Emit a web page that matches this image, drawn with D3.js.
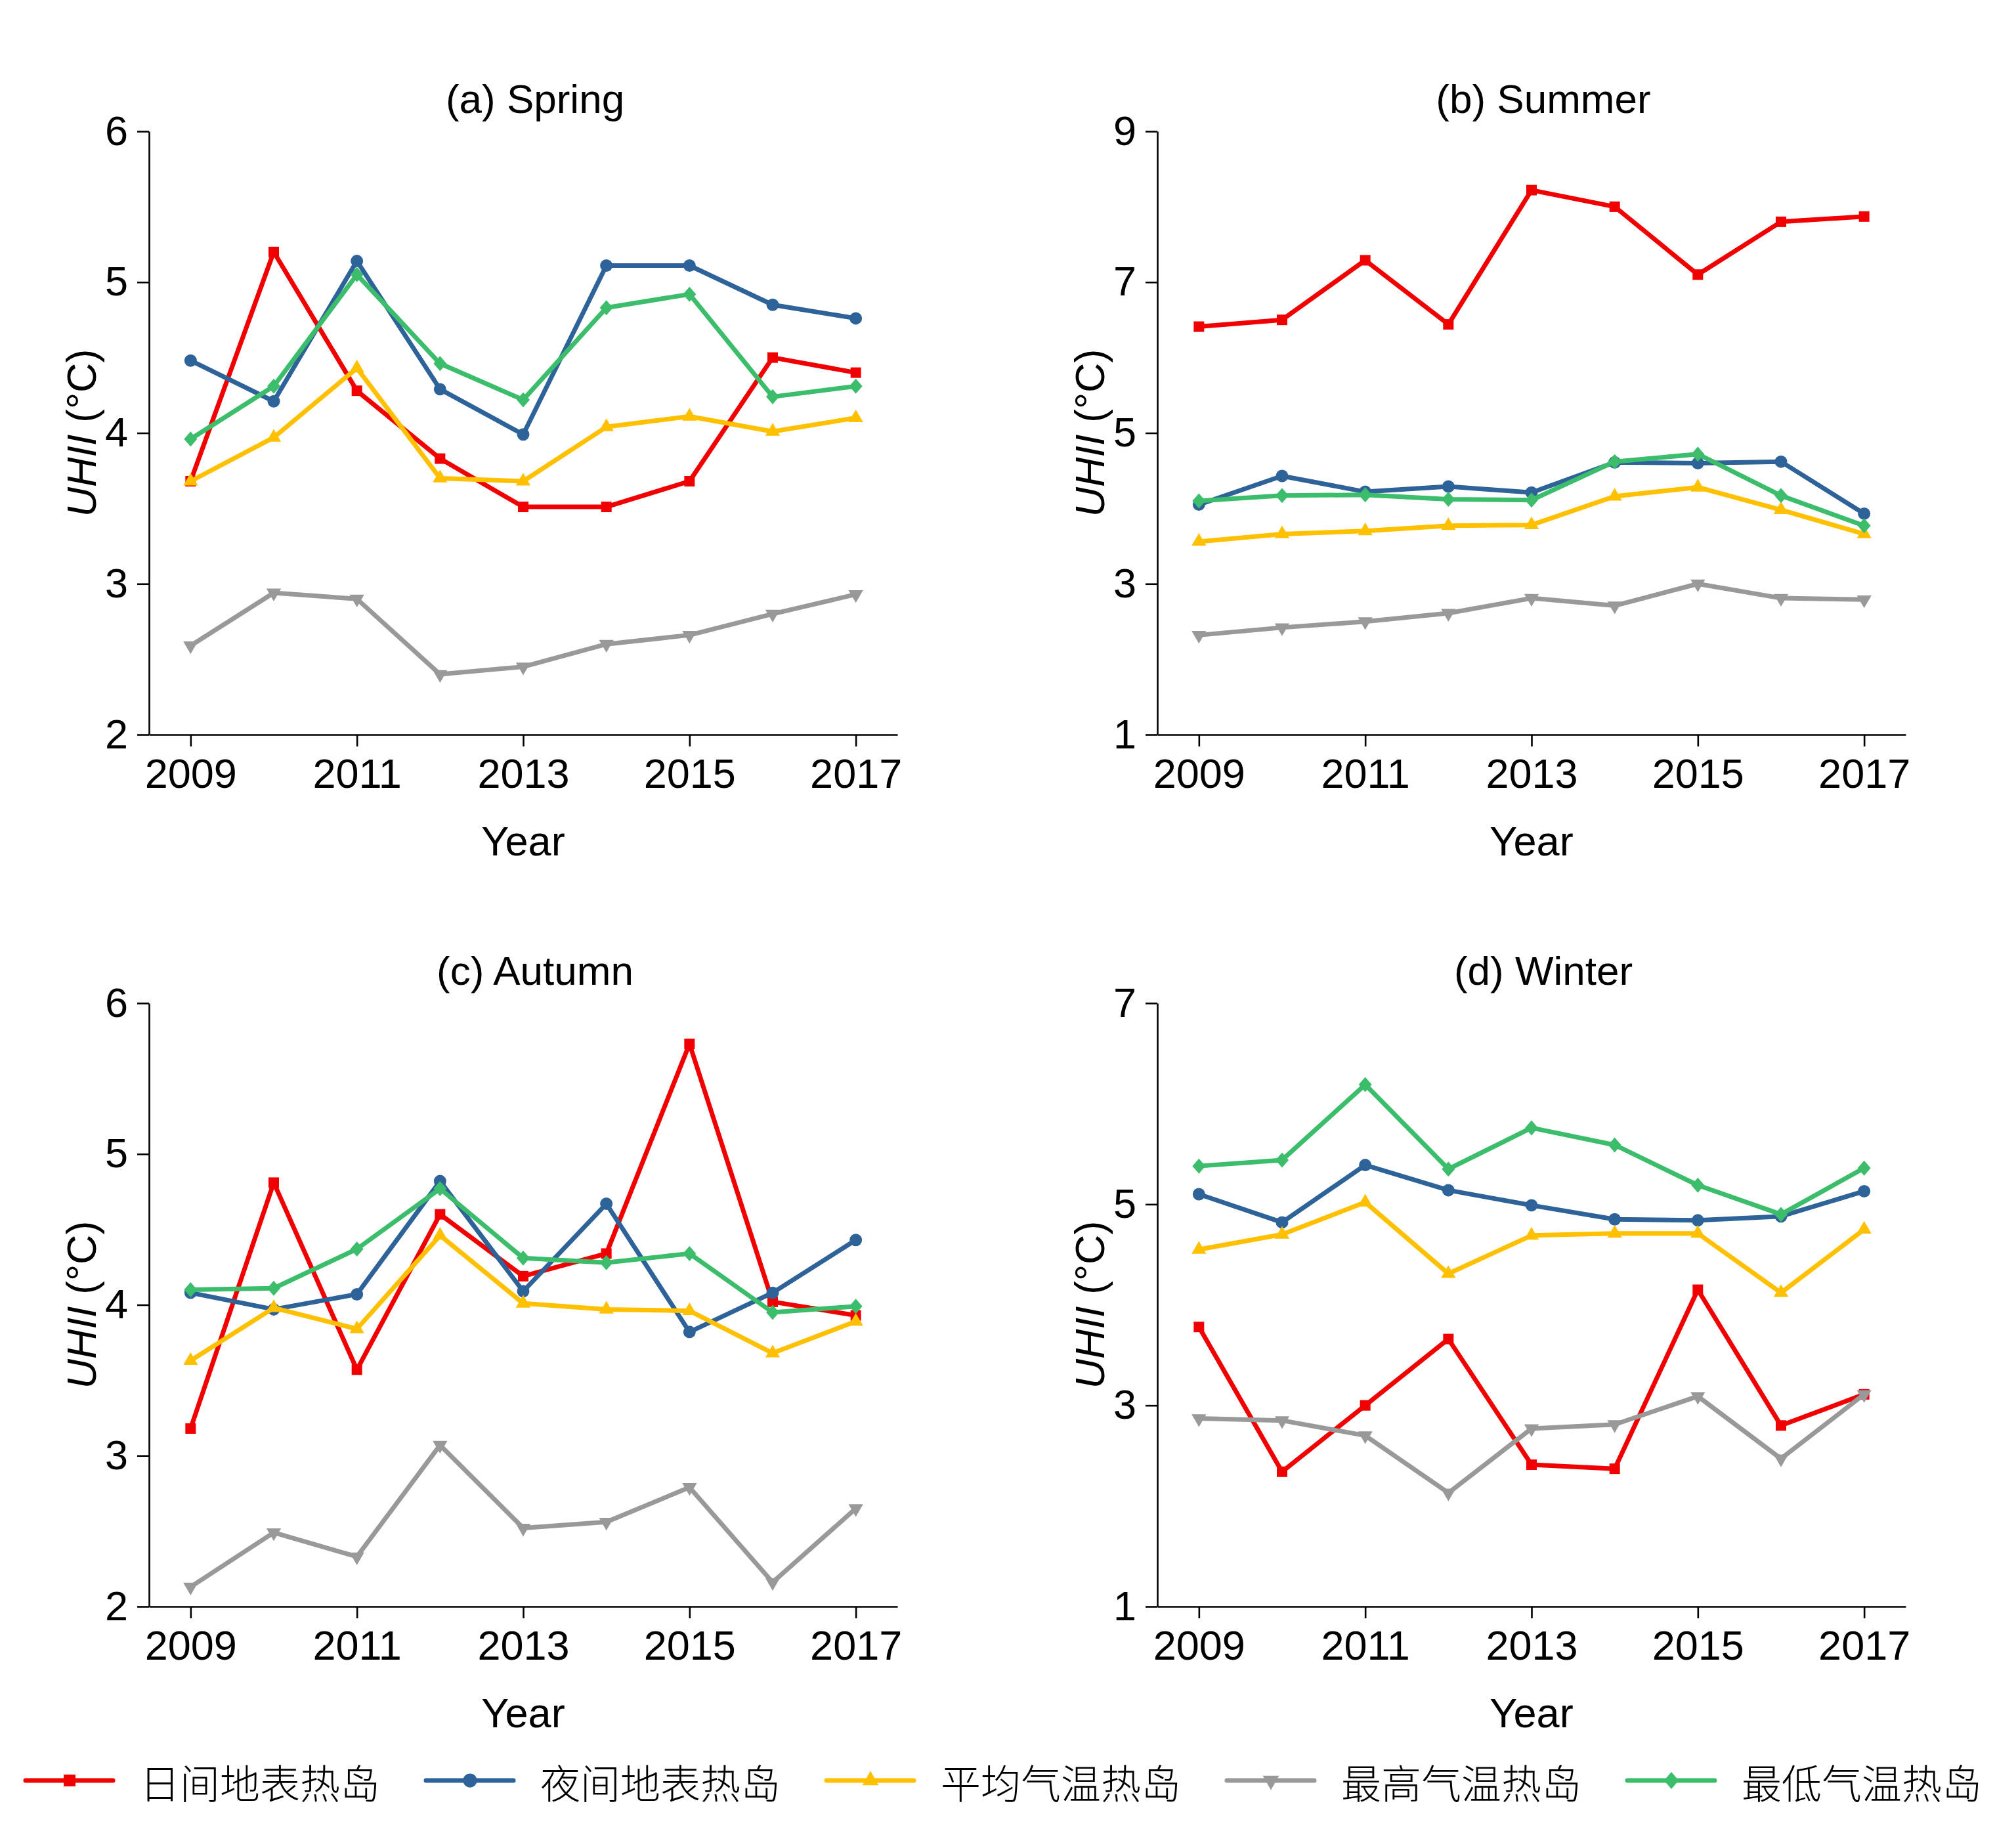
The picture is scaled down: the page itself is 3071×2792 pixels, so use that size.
<!DOCTYPE html>
<html>
<head>
<meta charset="utf-8">
<script src="https://cdn.jsdelivr.net/npm/d3@7"></script>
<style>
  html, body { margin: 0; padding: 0; background: #fff; }
  svg { display: block; }
</style>
</head>
<body>
<script>
// ---------- data ----------
const years = [2009, 2010, 2011, 2012, 2013, 2014, 2015, 2016, 2017];
const xTickYears = [2009, 2011, 2013, 2015, 2017];
const seriesNames = ["日间地表热岛", "夜间地表热岛", "平均气温热岛", "最高气温热岛", "最低气温热岛"];
const seriesColors = ["#F00000", "#2E6399", "#FFC000", "#999999", "#3CBD6B"];

const panelTitles = ["(a) Spring", "(b) Summer", "(c) Autumn", "(d) Winter"];
const springDomain = [2, 6], summerDomain = [1, 9], autumnDomain = [2, 6], winterDomain = [1, 7];
const springTicks = [2, 3, 4, 5, 6];
const summerTicks = [1, 3, 5, 7, 9];
const autumnTicks = [2, 3, 4, 5, 6];
const winterTicks = [1, 3, 5, 7];

// Spring
const springDay   = [3.68, 5.20, 4.28, 3.83, 3.51, 3.51, 3.68, 4.50, 4.40];
const springNight = [4.48, 4.21, 5.14, 4.29, 3.99, 5.11, 5.11, 4.85, 4.76];
const springMean  = [3.68, 3.97, 4.43, 3.70, 3.68, 4.04, 4.11, 4.01, 4.10];
const springMax   = [2.59, 2.94, 2.90, 2.40, 2.45, 2.60, 2.66, 2.80, 2.93];
const springMin   = [3.96, 4.31, 5.05, 4.46, 4.22, 4.83, 4.92, 4.24, 4.31];
// Summer
const summerDay   = [6.41, 6.50, 7.29, 6.44, 8.22, 8.00, 7.10, 7.80, 7.87];
const summerNight = [4.05, 4.43, 4.22, 4.29, 4.21, 4.61, 4.60, 4.62, 3.93];
const summerMean  = [3.56, 3.66, 3.70, 3.77, 3.78, 4.16, 4.28, 3.98, 3.66];
const summerMax   = [2.32, 2.42, 2.50, 2.61, 2.81, 2.71, 3.00, 2.81, 2.79];
const summerMin   = [4.10, 4.17, 4.18, 4.12, 4.11, 4.62, 4.72, 4.17, 3.77];
// Autumn
const autumnDay   = [3.18, 4.81, 3.57, 4.60, 4.19, 4.34, 5.73, 4.02, 3.93];
const autumnNight = [4.08, 3.97, 4.07, 4.82, 4.09, 4.67, 3.82, 4.08, 4.43];
const autumnMean  = [3.63, 3.98, 3.84, 4.46, 4.01, 3.97, 3.96, 3.68, 3.89];
const autumnMax   = [2.13, 2.49, 2.33, 3.07, 2.52, 2.56, 2.79, 2.16, 2.65];
const autumnMin   = [4.10, 4.11, 4.37, 4.77, 4.31, 4.28, 4.34, 3.95, 3.99];
// Winter
const winterDay   = [3.78, 2.34, 3.00, 3.66, 2.41, 2.37, 4.15, 2.80, 3.11];
const winterNight = [5.10, 4.82, 5.39, 5.14, 4.99, 4.85, 4.84, 4.88, 5.13];
const winterMean  = [4.55, 4.70, 5.02, 4.31, 4.69, 4.71, 4.71, 4.12, 4.75];
const winterMax   = [2.87, 2.85, 2.70, 2.13, 2.77, 2.81, 3.09, 2.47, 3.11];
const winterMin   = [5.38, 5.44, 6.19, 5.35, 5.76, 5.59, 5.19, 4.90, 5.36];

// ---------- layout ----------
const W = 3071, H = 2792;
const latinFont = "'Liberation Sans', Arial, Helvetica, sans-serif";
const cjkFont = "'Noto Sans CJK SC', 'Noto Sans CJK JP', sans-serif";
const pw = 1140, ph = 919;
const lefts = [227, 1763], tops = [200, 1528];

const panels = [
  { title: panelTitles[0], series: [springDay, springNight, springMean, springMax, springMin], domain: springDomain, ticks: springTicks, left: lefts[0], top: tops[0] },
  { title: panelTitles[1], series: [summerDay, summerNight, summerMean, summerMax, summerMin], domain: summerDomain, ticks: summerTicks, left: lefts[1], top: tops[0] },
  { title: panelTitles[2], series: [autumnDay, autumnNight, autumnMean, autumnMax, autumnMin], domain: autumnDomain, ticks: autumnTicks, left: lefts[0], top: tops[1] },
  { title: panelTitles[3], series: [winterDay, winterNight, winterMean, winterMax, winterMin], domain: winterDomain, ticks: winterTicks, left: lefts[1], top: tops[1] }
];

const svg = d3.select("body").append("svg")
  .attr("width", W).attr("height", H)
  .attr("viewBox", `0 0 ${W} ${H}`);
svg.append("rect").attr("width", W).attr("height", H).attr("fill", "#fff");

function markerPath(i, scale) {
  const s = scale || 1;
  if (i === 0) return d3.symbol(d3.symbolSquare, 256 * s * s)();
  if (i === 1) return d3.symbol(d3.symbolCircle, Math.PI * 90 * s * s)();
  if (i === 2 || i === 3) return d3.symbol(d3.symbolTriangle, 215 * s * s)();
  const p = d3.path();
  p.moveTo(0, -11.5 * s); p.lineTo(10 * s, 0); p.lineTo(0, 11.5 * s); p.lineTo(-10 * s, 0); p.closePath();
  return p.toString();
}

panels.forEach(pn => {
  const g = svg.append("g").attr("transform", `translate(${pn.left},${pn.top})`);
  const x = d3.scaleLinear().domain([2008.5, 2017.5]).range([0, pw]);
  const y = d3.scaleLinear().domain(pn.domain).range([ph, 0]);

  const xAxis = g.append("g").attr("transform", `translate(0,${ph})`)
    .call(d3.axisBottom(x).tickValues(xTickYears).tickFormat(d3.format("d"))
      .tickSize(18).tickSizeOuter(0).tickPadding(18));
  const yAxis = g.append("g")
    .call(d3.axisLeft(y).tickValues(pn.ticks).tickFormat(d3.format("d"))
      .tickSize(18).tickSizeOuter(0).tickPadding(14));
  [xAxis, yAxis].forEach(a => {
    a.selectAll("path, line").attr("stroke", "#000").attr("stroke-width", 2.6);
    a.selectAll("text").attr("font-family", latinFont).attr("font-size", 63).attr("fill", "#000");
  });

  pn.series.forEach((vals, i) => {
    const pts = years.map((yr, k) => [yr, vals[k]]);
    g.append("path")
      .attr("d", d3.line().x(d => x(d[0])).y(d => y(d[1]))(pts))
      .attr("fill", "none").attr("stroke", seriesColors[i])
      .attr("stroke-width", 7).attr("stroke-linejoin", "round");
    g.selectAll(null).data(pts).enter().append("path")
      .attr("d", markerPath(i))
      .attr("transform", d => `translate(${x(d[0])},${y(d[1])})` + (i === 3 ? " rotate(180)" : ""))
      .attr("fill", seriesColors[i]);
  });

  g.append("text")
    .attr("x", 588).attr("y", -28)
    .attr("text-anchor", "middle")
    .attr("font-family", latinFont).attr("font-size", 62).attr("fill", "#000")
    .text(pn.title);

  g.append("text")
    .attr("x", pw / 2).attr("y", ph + 184)
    .attr("text-anchor", "middle")
    .attr("font-family", latinFont).attr("font-size", 63).attr("fill", "#000")
    .text("Year");

  const yl = g.append("text")
    .attr("transform", `translate(-81,${ph / 2}) rotate(-90)`)
    .attr("text-anchor", "middle")
    .attr("font-family", latinFont).attr("font-size", 63).attr("fill", "#000");
  yl.append("tspan").attr("font-style", "italic").text("UHII");
  yl.append("tspan").text(" (°C)");
});

// ---------- legend ----------
const legY = 2712;
const leg = svg.append("g");
seriesNames.forEach((name, i) => {
  const x0 = 39 + i * 610;
  const item = leg.append("g").attr("transform", `translate(${x0},${legY})`);
  item.append("line").attr("x1", 0).attr("x2", 133).attr("y1", 0).attr("y2", 0)
    .attr("stroke", seriesColors[i]).attr("stroke-width", 7).attr("stroke-linecap", "round");
  item.append("path").attr("d", markerPath(i, 1.12))
    .attr("transform", `translate(67,0)` + (i === 3 ? " rotate(180)" : ""))
    .attr("fill", seriesColors[i]);
  item.append("text").attr("x", 174).attr("y", 1)
    .attr("dominant-baseline", "central")
    .attr("font-family", cjkFont).attr("font-size", 61).attr("font-weight", 300).attr("fill", "#000")
    .text(name);
});
</script>
</body>
</html>
